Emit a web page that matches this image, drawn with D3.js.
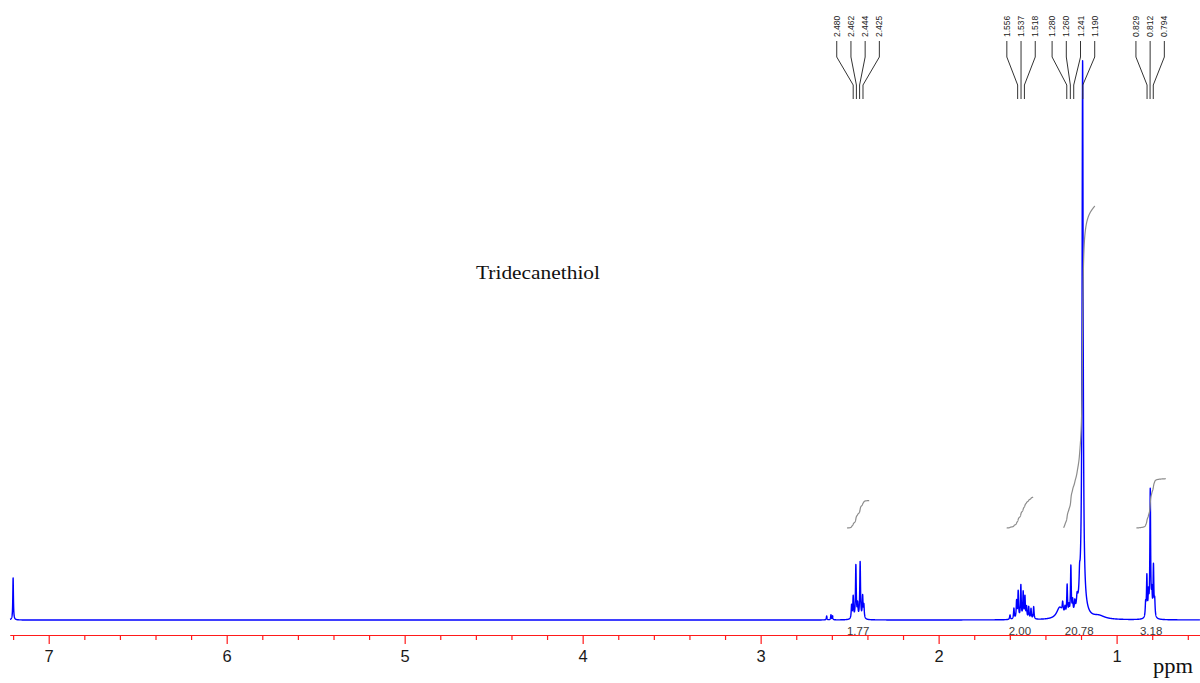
<!DOCTYPE html>
<html><head><meta charset="utf-8">
<script src="https://cdn.jsdelivr.net/npm/d3@7"></script>
<style>body{margin:0;background:#fff}svg{display:block}</style>
</head><body><svg id="c" width="1200" height="683"></svg>
<script>
// ---------------- data ----------------
const title = "Tridecanethiol";
const axisLabel = "ppm";
const majorTicks = [7, 6, 5, 4, 3, 2, 1];
const minorTicks = [7.2, 6.8, 6.6, 6.4, 6.2, 5.8, 5.6, 5.4, 5.2, 4.8, 4.6, 4.4, 4.2,
  3.8, 3.6, 3.4, 3.2, 2.8, 2.6, 2.4, 2.2, 1.8, 1.6, 1.4, 1.2, 0.8, 0.6];

// spectrum lines: [ppm, relative intensity, half width (ppm)]
const solventPeaks = [[7.200, 7.5, 0.002]];
const impurityPeaks = [[2.629, 0.7, 0.002], [2.605, 0.9, 0.002], [2.596, 0.7, 0.002]];
const sCH2Peaks = [[2.489, 2.4, 0.0025], [2.480, 3.9, 0.0025], [2.465, 9.5, 0.0025],
  [2.455, 2.4, 0.0025], [2.441, 10.1, 0.0025], [2.427, 3.9, 0.0025], [2.420, 2.3, 0.0025]];
const betaCH2Peaks = [[1.599, 0.8, 0.0025], [1.577, 1.9, 0.0025], [1.562, 3.1, 0.0025],
  [1.553, 4.8, 0.0025], [1.538, 5.9, 0.0025], [1.525, 4.6, 0.0025], [1.515, 3.8, 0.0025],
  [1.506, 2.0, 0.0025], [1.494, 2.1, 0.0025], [1.481, 1.8, 0.0025], [1.466, 2.2, 0.0025]];
const bulkCH2Peaks = [[1.320, 2.0, 0.02], [1.303, 1.8, 0.003], [1.290, 1.3, 0.003],
  [1.278, 5.3, 0.0025], [1.268, 1.5, 0.0025], [1.257, 8.6, 0.0025], [1.247, 2.2, 0.0025],
  [1.235, 1.8, 0.003], [1.222, 2.0, 0.004], [1.208, 3.0, 0.003],
  [1.191, 95.0, 0.0035], [1.195, 4.5, 0.018], [1.100, 0.6, 0.04]];
const methylPeaks = [[0.837, 2.4, 0.0025], [0.830, 7.2, 0.0025], [0.821, 3.8, 0.0025],
  [0.811, 22.6, 0.0025], [0.802, 3.8, 0.0025], [0.793, 9.0, 0.0025], [0.786, 2.8, 0.0025]];

// peak pick labels, one list per multiplet
const peakLabels1 = ["2.480", "2.462", "2.444", "2.425"];
const peakLabels2 = ["1.556", "1.537", "1.518"];
const peakLabels3 = ["1.280", "1.260", "1.241", "1.190"];
const peakLabels4 = ["0.829", "0.812", "0.794"];

// integrals
const integralStarts = [2.515, 1.618, 1.298, 0.889];
const integralEnds = [2.390, 1.469, 1.122, 0.723];
const integralValues = [1.77, 2.00, 20.78, 3.18];

// ---------------- drawing ----------------
const svg = d3.select("#c");
const allPeaks = [].concat(solventPeaks, impurityPeaks, sCH2Peaks, betaCH2Peaks, bulkCH2Peaks, methylPeaks);
const spec = p => d3.sum(allPeaks, d => d[1] / (1 + Math.pow((p - d[0]) / d[2], 2)));

const x = d3.scaleLinear().domain([7.2175, 0.5315]).range([10, 1200]);
const y = d3.scaleLinear().domain([0, 100]).range([620, 58]);
const yI = d3.scaleLinear().domain([0, 20.78]).range([528, 206]);

const step = 0.0004;
const pts = d3.range(7.2175, 0.5315, -step).map(p => [p, spec(p)]);
svg.append("path")
  .attr("d", d3.line().x(d => x(d[0])).y(d => y(d[1]))(pts))
  .attr("fill", "none").attr("stroke", "#0000ff").attr("stroke-width", 1.4)
  .attr("stroke-linejoin", "round");

// integral curves
integralValues.forEach((v, i) => {
  const ps = d3.range(integralStarts[i], integralEnds[i], -step);
  let acc = 0;
  const cum = ps.map(p => { acc += spec(p); return [p, acc]; });
  const tot = acc;
  svg.append("path")
    .attr("d", d3.line().x(d => x(d[0])).y(d => yI(v * d[1] / tot))(cum))
    .attr("fill", "none").attr("stroke", "#8c8c8c").attr("stroke-width", 1.2);
});

// axis
const axisY = 635;
const gMinor = svg.append("g").attr("transform", `translate(0,${axisY})`)
  .call(d3.axisBottom(x).tickValues(minorTicks).tickSize(5).tickSizeOuter(0).tickFormat(""));
const gMajor = svg.append("g").attr("transform", `translate(0,${axisY})`)
  .call(d3.axisBottom(x).tickValues(majorTicks).tickSize(9).tickSizeOuter(0).tickFormat(d3.format("d")));
[gMinor, gMajor].forEach(g => {
  g.select(".domain").attr("stroke", "#ff1a1a").attr("stroke-width", 1.2);
  g.selectAll(".tick line").attr("stroke", "#ff1a1a").attr("stroke-width", 1.2);
});
gMajor.selectAll(".tick text")
  .attr("dy", null).attr("y", 26.7)
  .attr("font-family", "Arial, 'Liberation Sans', sans-serif").attr("font-size", 16.5)
  .attr("fill", "#1a1a1a");

// integral values
integralValues.forEach((v, i) => {
  svg.append("text")
    .attr("x", x((integralStarts[i] + integralEnds[i]) / 2)).attr("y", 635)
    .attr("text-anchor", "middle")
    .attr("font-family", "Arial, 'Liberation Sans', sans-serif").attr("font-size", 11.5)
    .attr("fill", "#3a3a3a")
    .text(d3.format(".2f")(v));
});

// peak labels with leader lines
const spacing = 14.2;
[peakLabels1, peakLabels2, peakLabels3, peakLabels4].forEach(grp => {
  const bottoms = grp.map(s => x(+s));
  const c = d3.mean(bottoms);
  grp.forEach((s, i) => {
    const tx = c + (i - (grp.length - 1) / 2) * spacing;
    const bx = bottoms[i];
    svg.append("path")
      .attr("d", `M${tx},41V57L${bx},85V99`)
      .attr("fill", "none").attr("stroke", "#333").attr("stroke-width", 1);
    svg.append("text")
      .attr("transform", `translate(${tx + 3},37) rotate(-90)`)
      .attr("font-family", "Arial, 'Liberation Sans', sans-serif").attr("font-size", 8.5)
      .attr("fill", "#222")
      .text(s);
  });
});

// title and axis label
svg.append("text").attr("x", 476).attr("y", 279)
  .attr("font-family", "'Liberation Serif', 'DejaVu Serif', serif").attr("font-size", 18.5)
  .attr("textLength", 124).attr("lengthAdjust", "spacingAndGlyphs")
  .attr("fill", "#111").text(title);
svg.append("text").attr("x", 1153).attr("y", 673)
  .attr("font-family", "'Liberation Serif', 'DejaVu Serif', serif").attr("font-size", 21)
  .attr("textLength", 40).attr("lengthAdjust", "spacingAndGlyphs")
  .attr("fill", "#111").text(axisLabel);
</script>
</body></html>
